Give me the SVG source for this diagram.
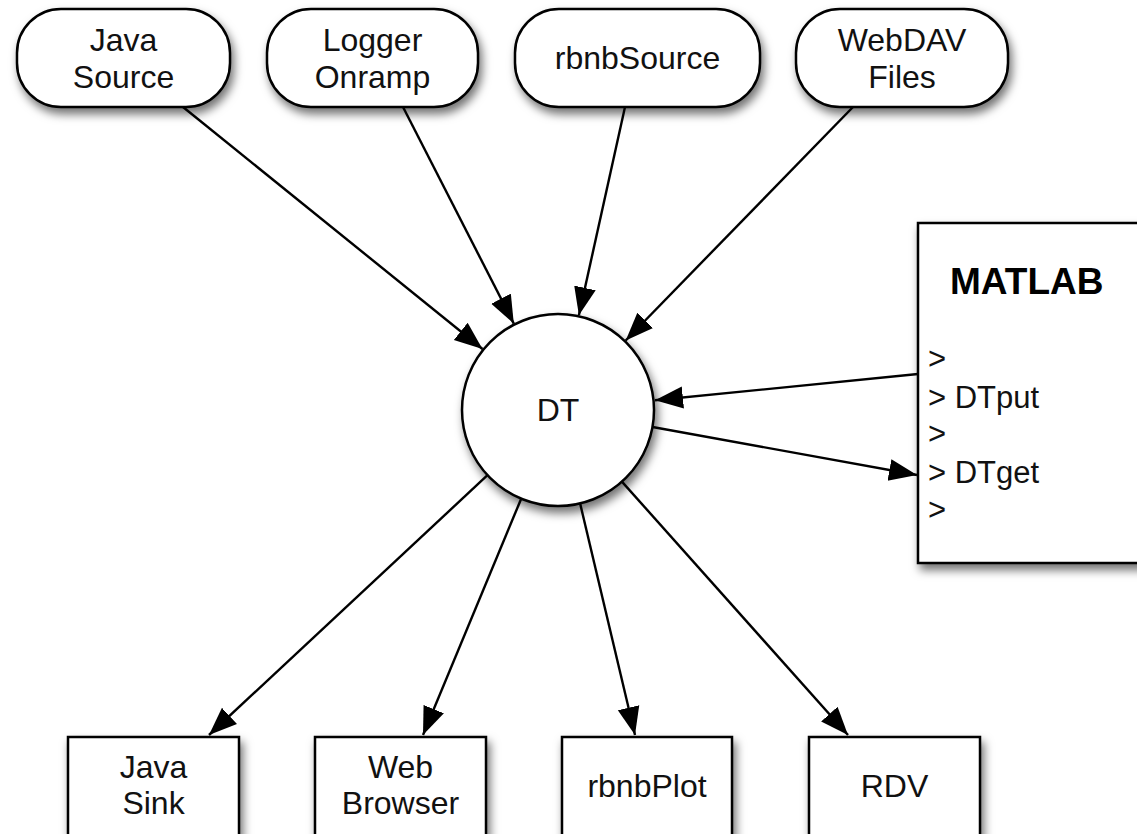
<svg xmlns="http://www.w3.org/2000/svg" width="1137" height="834" viewBox="0 0 1137 834">
<defs>
<style>
.shape{fill:#fff;stroke:#000;stroke-width:2.5;filter:url(#sh)}
.lbl{font-family:"Liberation Sans",Arial,sans-serif;font-size:32px;fill:#111;text-anchor:middle}
.ml{font-family:"Liberation Sans",Arial,sans-serif;font-size:31px;fill:#111}
.title{font-family:"Liberation Sans",Arial,sans-serif;font-size:37px;font-weight:bold;fill:#000}
.edge{stroke:#000;stroke-width:2.4;fill:none;marker-end:url(#ah)}
</style>
<filter id="sh" x="-20%" y="-20%" width="150%" height="150%">
<feDropShadow dx="3" dy="6" stdDeviation="5" flood-color="#000" flood-opacity="0.55"/>
</filter>
<marker id="ah" markerUnits="userSpaceOnUse" markerWidth="30" markerHeight="24" viewBox="0 -12 30 24" refX="28" refY="0" orient="auto">
<path d="M0,-11 L28,0 L0,11 z" fill="#000"/>
</marker>
</defs>
<rect width="1137" height="834" fill="#fff"/>
<g id="java-source">
<rect class="shape" x="17" y="9" width="213" height="98" rx="44" ry="44"/>
<text class="lbl" x="123.5" y="51">Java</text>
<text class="lbl" x="123.5" y="88">Source</text>
</g>
<g id="logger-onramp">
<rect class="shape" x="267" y="9" width="211" height="98" rx="44" ry="44"/>
<text class="lbl" x="372.5" y="51">Logger</text>
<text class="lbl" x="372.5" y="88">Onramp</text>
</g>
<g id="rbnbsource">
<rect class="shape" x="515" y="9" width="245" height="98" rx="44" ry="44"/>
<text class="lbl" x="637.5" y="69">rbnbSource</text>
</g>
<g id="webdav-files">
<rect class="shape" x="796" y="9" width="212" height="98" rx="44" ry="44"/>
<text class="lbl" x="902" y="51">WebDAV</text>
<text class="lbl" x="902" y="88">Files</text>
</g>
<g id="matlab">
<rect class="shape" x="918" y="223" width="240" height="340"/>
<text class="title" x="950" y="294">MATLAB</text>
<text class="ml" x="928" y="369">&gt;</text>
<text class="ml" x="928" y="408">&gt; DTput</text>
<text class="ml" x="928" y="444">&gt;</text>
<text class="ml" x="928" y="483">&gt; DTget</text>
<text class="ml" x="928" y="520">&gt;</text>
</g>
<g id="dt">
<circle class="shape" cx="558" cy="410" r="96"/>
<text class="lbl" x="558" y="421">DT</text>
</g>
<g id="java-sink">
<rect class="shape" x="68" y="737" width="171" height="110"/>
<text class="lbl" x="153.5" y="778">Java</text>
<text class="lbl" x="153.5" y="814">Sink</text>
</g>
<g id="web-browser">
<rect class="shape" x="315" y="737" width="171" height="110"/>
<text class="lbl" x="400.5" y="778">Web</text>
<text class="lbl" x="400.5" y="814">Browser</text>
</g>
<g id="rbnbplot">
<rect class="shape" x="562" y="737" width="170" height="110"/>
<text class="lbl" x="647" y="797">rbnbPlot</text>
</g>
<g id="rdv">
<rect class="shape" x="809" y="737" width="171" height="110"/>
<text class="lbl" x="894.5" y="797">RDV</text>
</g>
<g id="connectors">
<line class="edge" x1="183" y1="107" x2="482.5" y2="349"/>
<line class="edge" x1="403" y1="107" x2="513.8" y2="323.6"/>
<line class="edge" x1="625" y1="107" x2="578.9" y2="315.3"/>
<line class="edge" x1="853" y1="107" x2="625.7" y2="340.5"/>
<line class="edge" x1="918" y1="374" x2="655" y2="400.3"/>
<line class="edge" x1="652.5" y1="427" x2="917" y2="475"/>
<line class="edge" x1="487.5" y1="475.2" x2="209" y2="735"/>
<line class="edge" x1="521.2" y1="498.7" x2="423" y2="735"/>
<line class="edge" x1="580.1" y1="503.4" x2="635" y2="735"/>
<line class="edge" x1="621.9" y1="481.6" x2="848" y2="735"/>
</g>
</svg>
